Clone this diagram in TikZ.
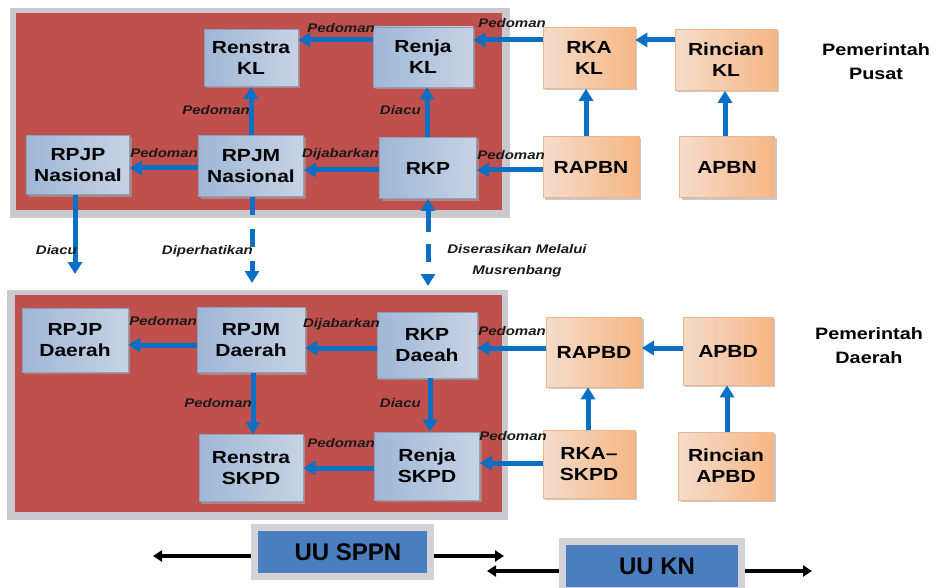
\documentclass[tikz,border=0pt]{standalone}
\usepackage{fontspec}
\setmainfont{Liberation Sans}[FakeStretch=1.2]
\newfontfamily\uufont{Liberation Sans}
\usetikzlibrary{arrows.meta,shadows}

\definecolor{panelred}{HTML}{C0504D}
\definecolor{panelgray}{HTML}{C9C9CF}
\definecolor{flowblue}{HTML}{0B6FC3}
\definecolor{labelc}{HTML}{1A1A1A}
\definecolor{bluel}{HTML}{9FB7D6}
\definecolor{bluem}{HTML}{E5E9EF}
\definecolor{bluer}{HTML}{C6D3E4}
\definecolor{blueedge}{HTML}{8E9FB8}
\definecolor{orl}{HTML}{F4DCCB}
\definecolor{orm}{HTML}{FAD3B3}
\definecolor{orr}{HTML}{F6B684}
\definecolor{oredge}{HTML}{EFB68B}
\definecolor{uublue}{HTML}{4A7EBF}
\definecolor{uugray}{HTML}{D2D2D8}

\tikzset{
  box/.style={align=center, inner sep=0pt, line width=0.6pt,
    font=\bfseries\fontsize{17.5}{21}\selectfont,
    drop shadow={shadow xshift=2pt, shadow yshift=-2pt, fill=black!35, opacity=0.6}},
  bluebox/.style={box, draw=blueedge, left color=bluel, middle color=bluem, right color=bluer},
  orbox/.style={box, draw=oredge, left color=orl, middle color=orm, right color=orr},
  lab/.style={font=\bfseries\itshape\fontsize{12.5}{14}\selectfont, text=labelc, inner sep=0pt},
  side/.style={font=\bfseries\fontsize{16.5}{24}\selectfont, align=center, inner sep=0pt},
  flow/.style={draw=flowblue, line width=5pt, -{Triangle[width=14pt,length=12pt]}},
  dashflow/.style={flow, dash pattern=on 18pt off 14pt},
  uubox/.style={draw=uugray, line width=7pt, fill=uublue, inner sep=0pt,
    font=\uufont\bfseries\fontsize{24}{28}\selectfont,
    drop shadow={shadow xshift=1pt, shadow yshift=-3pt, fill=black!40, opacity=0.5}},
  law/.style={draw=black, line width=3.5pt, -{Triangle[width=11pt,length=9pt]}}
}

\begin{document}
\begin{tikzpicture}[x=1pt,y=-1pt]
\clip (0,0) rectangle (936,588);
\fill[white] (0,0) rectangle (936,588);

% central government panel
\fill[panelgray] (10,8) rectangle (510,218);
\fill[panelred] (16,13) rectangle (502,210);
% regional government panel
\fill[panelgray] (7,290) rectangle (508,520);
\fill[panelred] (15,295) rectangle (502,512);

% ---- central level ----
\node[bluebox, minimum width=94pt,  minimum height=57pt] (rsk)   at (251,58)  {Renstra\\KL};
\node[bluebox, minimum width=100pt, minimum height=60pt] (rjk)   at (423,57)  {Renja\\KL};
\node[bluebox, minimum width=103pt, minimum height=59pt] (rpjpn) at (78,165)  {RPJP\\Nasional};
\node[bluebox, minimum width=105pt, minimum height=61pt] (rpjmn) at (251,166) {RPJM\\Nasional};
\node[bluebox, minimum width=97pt,  minimum height=61pt] (rkp)   at (428,168) {RKP};
\node[orbox,   minimum width=92pt,  minimum height=61pt] (rkakl) at (589,58)  {RKA\\KL};
\node[orbox,   minimum width=102pt, minimum height=61pt] (rinkl) at (726,60)  {Rincian\\KL};
\node[orbox,   minimum width=96pt,  minimum height=61pt] (rapbn) at (591,167) {RAPBN};
\node[orbox,   minimum width=95pt,  minimum height=61pt] (apbn)  at (727,167) {APBN};

\node[side] (pusat) at (876,62) {Pemerintah\\Pusat};

% ---- regional level ----
\node[bluebox, minimum width=106pt, minimum height=64pt] (rpjpd)  at (75,340)  {RPJP\\Daerah};
\node[bluebox, minimum width=108pt, minimum height=65pt] (rpjmd)  at (251,340) {RPJM\\Daerah};
\node[bluebox, minimum width=100pt, minimum height=66pt] (rkpd)   at (427,345) {RKP\\Daeah};
\node[bluebox, minimum width=104pt, minimum height=67pt] (rsskpd) at (251,468) {Renstra\\SKPD};
\node[bluebox, minimum width=105pt, minimum height=68pt] (rjskpd) at (427,466) {Renja\\SKPD};
\node[orbox,   minimum width=95pt,  minimum height=70pt] (rapbd)  at (594,352) {RAPBD};
\node[orbox,   minimum width=90pt,  minimum height=68pt] (apbd)   at (728,351) {APBD};
\node[orbox,   minimum width=92pt,  minimum height=68pt] (rkaskpd) at (589,464) {RKA–\\SKPD};
\node[orbox,   minimum width=95pt,  minimum height=68pt] (rinapbd) at (726,466) {Rincian\\APBD};

\node[side] (daerah) at (869,346) {Pemerintah\\Daerah};

% ---- central connectors ----
\draw[flow] (rjk.west |- 0,40) -- (rsk.east |- 0,40);
\node[lab, anchor=base east] at (375,33) {Pedoman};
\draw[flow] (rkakl.west |- 0,40) -- (rjk.east |- 0,40);
\node[lab, anchor=base east] at (546,28) {Pedoman};
\draw[flow] (rinkl.west |- 0,40) -- (rkakl.east |- 0,40);
\draw[flow] (rpjmn.north -| 251,0) -- (rsk.south -| 251,0);
\node[lab, anchor=base east] at (250,115) {Pedoman};
\draw[flow] (rkp.north -| 427,0) -- (rjk.south -| 427,0);
\node[lab, anchor=base east] at (421,115) {Diacu};
\draw[flow] (rpjmn.west |- 0,168) -- (rpjpn.east |- 0,168);
\node[lab, anchor=base east] at (198,158) {Pedoman};
\draw[flow] (rkp.west |- 0,170) -- (rpjmn.east |- 0,170);
\node[lab, anchor=base east] at (379,158) {Dijabarkan};
\draw[flow] (rapbn.west |- 0,170) -- (rkp.east |- 0,170);
\node[lab, anchor=base east] at (545,160) {Pedoman};
\draw[flow] (rapbn.north -| 586,0) -- (rkakl.south -| 586,0);
\draw[flow] (apbn.north -| 725,0) -- (rinkl.south -| 725,0);

% ---- links between the two levels ----
\coordinate (dn1) at (75,274);
\coordinate (dn2) at (252,283);
\coordinate (dn3) at (428,286);
\draw[flow] (rpjpn.south -| 75,0) -- (dn1);
\node[lab, anchor=base east] at (77,254) {Diacu};
\draw[dashflow] (rpjmn.south -| 252,0) -- (dn2);
\node[lab, anchor=base east] at (253,254) {Diperhatikan};
\draw[flow, {Triangle[width=14pt,length=12pt]}-{Triangle[width=14pt,length=12pt]},
      dash pattern=on 22pt off 12pt on 18pt off 40pt] (rkp.south -| 428,0) -- (dn3);
\node[lab, align=center, font=\bfseries\itshape\fontsize{12.5}{21}\selectfont] at (517,261)
  {Diserasikan Melalui\\Musrenbang};

% ---- regional connectors ----
\draw[flow] (rpjmd.west |- 0,345) -- (rpjpd.east |- 0,345);
\node[lab, anchor=base east] at (197,325) {Pedoman};
\draw[flow] (rkpd.west |- 0,348) -- (rpjmd.east |- 0,348);
\node[lab, anchor=base east] at (380,327) {Dijabarkan};
\draw[flow] (rapbd.west |- 0,348) -- (rkpd.east |- 0,348);
\node[lab, anchor=base east] at (546,335) {Pedoman};
\draw[flow] (apbd.west |- 0,348) -- (rapbd.east |- 0,348);
\draw[flow] (rpjmd.south -| 253,0) -- (rsskpd.north -| 253,0);
\node[lab, anchor=base east] at (252,407) {Pedoman};
\draw[flow] (rkpd.south -| 430,0) -- (rjskpd.north -| 430,0);
\node[lab, anchor=base east] at (421,407) {Diacu};
\draw[flow] (rjskpd.west |- 0,468) -- (rsskpd.east |- 0,468);
\node[lab, anchor=base east] at (375,447) {Pedoman};
\draw[flow] (rkaskpd.west |- 0,463) -- (rjskpd.east |- 0,463);
\node[lab, anchor=base east] at (547,440) {Pedoman};
\draw[flow] (rkaskpd.north -| 588,0) -- (rapbd.south -| 588,0);
\draw[flow] (rinapbd.north -| 727,0) -- (apbd.south -| 727,0);

% ---- laws ----
\node[uubox, minimum width=176pt, minimum height=49pt] (sppn) at (342,552) {\hspace*{12pt}UU SPPN};
\node[uubox, minimum width=179pt, minimum height=49pt] (kn)   at (652,566) {\hspace*{10pt}UU KN};
\coordinate (sppnL) at (153,556);
\coordinate (sppnR) at (504,556);
\coordinate (knL) at (487,571);
\coordinate (knR) at (812,571);
\draw[law] (sppn.west |- 0,556) -- (sppnL);
\draw[law] (sppn.east |- 0,556) -- (sppnR);
\draw[law] (kn.west |- 0,571) -- (knL);
\draw[law] (kn.east |- 0,571) -- (knR);
\end{tikzpicture}
\end{document}
